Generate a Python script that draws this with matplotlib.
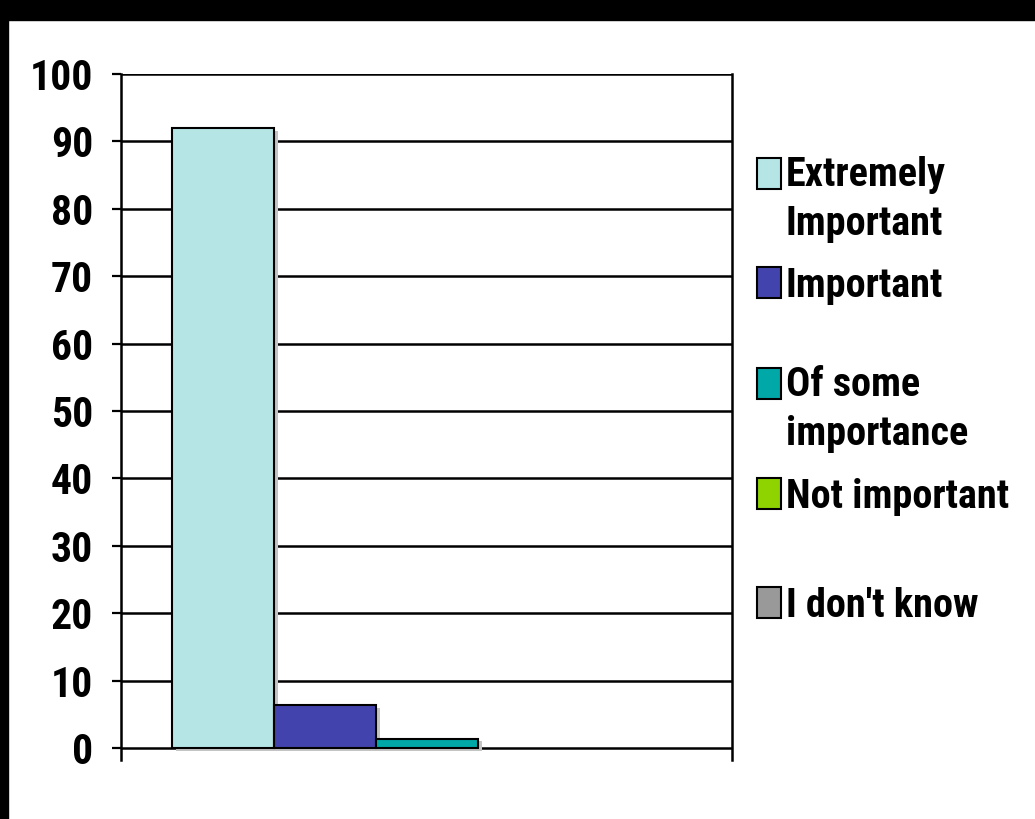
import matplotlib
matplotlib.use("Agg")
import matplotlib.pyplot as plt
from matplotlib import font_manager
from matplotlib.patches import Rectangle
import matplotlib.patheffects as pe

names = {f.name for f in font_manager.fontManager.ttflist}
FONT = "Roboto Condensed" if "Roboto Condensed" in names else "Liberation Sans"

# data
series = ["Extremely\nImportant", "Important", "Of some\nimportance", "Not important", "I don't know"]
values = [92.0, 6.4, 1.4, 0.0, 0.0]
colors = ["#B6E5E5", "#4343AD", "#00A8A8", "#8FD400", "#999999"]
yticks = [0, 10, 20, 30, 40, 50, 60, 70, 80, 90, 100]

W, H = 1035, 819
fig = plt.figure(figsize=(W / 100, H / 100), dpi=100)
fig.patch.set_facecolor("white")
# black frame bands
fig.patches.append(Rectangle((0, 1 - 20 / H), 1, 20 / H, transform=fig.transFigure, color="black", zorder=0))
fig.patches.append(Rectangle((0, 0), 8 / W, 1, transform=fig.transFigure, color="black", zorder=0))

ax = fig.add_axes([121 / W, 1 - 760 / H, (732 - 121) / W, (760 - 74) / H])
ax.set_xlim(-0.5, 0.5)
ax.set_ylim(-1.78, 100)

shadow = [pe.SimplePatchShadow(offset=(3, -2), shadow_rgbFace="#C4C4C4", alpha=1.0), pe.Normal()]
bw = 102 / 611
for i, (v, c) in enumerate(zip(values, colors)):
    if v > 0:
        ax.bar((i - 2) * bw, v, width=bw, color=c, edgecolor="black", linewidth=1.5,
               zorder=3, path_effects=shadow)

for y in yticks:
    ax.axhline(y, color="black", linewidth=1.8, zorder=2)

ax.set_yticks(yticks)
ax.set_xticks([])
ax.tick_params(axis="y", length=6.5, width=1.6, pad=13.5, direction="out")
for lab in ax.get_yticklabels():
    lab.set_fontfamily(FONT)
    lab.set_fontweight("bold")
    lab.set_fontsize(30)
for s in ["top", "bottom"]:
    ax.spines[s].set_visible(False)
for s in ["left", "right"]:
    ax.spines[s].set_linewidth(1.8)
ax.set_facecolor("none")

# legend drawn manually (square bottom sits on the first line's baseline)
sqw, sqh = 24, 31
x0 = 757
baselines = [188, 297, 398, 508, 617]
line_gap = 47
for lab, c, yb in zip(series, colors, baselines):
    fig.patches.append(Rectangle((x0 / W, 1 - (yb + 1) / H), sqw / W, sqh / H,
                                 transform=fig.transFigure, facecolor=c, edgecolor="black",
                                 linewidth=1.5, zorder=3))
    nlines = lab.count("\n") + 1
    fig.text(786 / W, 1 - (yb + line_gap * (nlines - 1)) / H, lab, transform=fig.transFigure,
             fontfamily=FONT, fontweight="bold", fontsize=29, va="baseline", ha="left",
             linespacing=1.38)

fig.savefig("out.png", dpi=100)
